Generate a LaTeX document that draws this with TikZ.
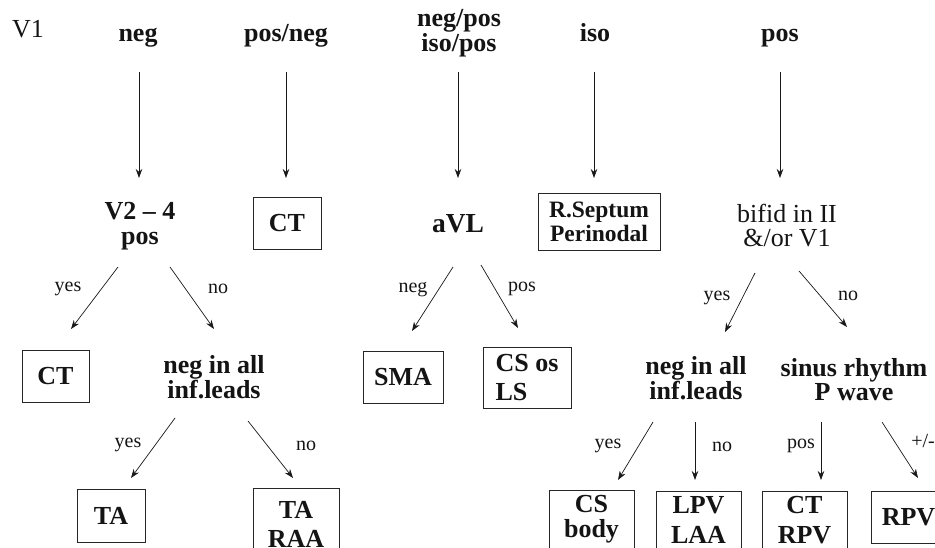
\documentclass[tikz,border=0pt]{standalone}
\usepackage{fontspec}
\setmainfont{Liberation Serif}
\usetikzlibrary{arrows.meta,calc}
\tikzset{
  bt/.style={font=\bfseries\fontsize{26}{23}\selectfont, inner sep=0pt, align=center, text=black!92},
  rt/.style={font=\fontsize{26}{23}\selectfont, inner sep=0pt, align=center, text=black!92},
  el/.style={font=\fontsize{20}{22}\selectfont, inner sep=0pt, text=black!92},
  boxed/.style={bt, draw=black!85, line width=0.8pt},
  frame/.style={draw=black!85, line width=0.8pt},
  arr/.style={-{Stealth[length=9pt,width=6.5pt]}, line width=0.7pt, draw=black!90},
}
\begin{document}
\begin{tikzpicture}[x=1pt,y=-1pt]
\path[use as bounding box, fill=white] (0,0) rectangle (935,548);
\clip (0,0) rectangle (935,548);

% top row
\node[rt, anchor=base] (v1) at (28,38) {V1};
\node[bt, anchor=base] (topneg) at (138,42) {neg};
\node[bt, anchor=base] (toppn) at (286,42) {pos/neg};
\node[bt] (topnp) at (459,33) {neg/pos\\iso/pos};
\node[bt, anchor=base] (topiso) at (595,42) {iso};
\node[bt, anchor=base] (toppos) at (780,42) {pos};

% second row
\node[bt] (v24) at (140,226) {V2 – 4\\[2pt]pos};
\node[boxed, minimum width=68pt, minimum height=52pt] (ct1) at (287,223) {CT};
\node[bt, font=\bfseries\fontsize{27.5}{23}\selectfont, anchor=base] (avl) at (458,233) {aVL};
\node[boxed, font=\bfseries\fontsize{23.5}{23}\selectfont, minimum width=122pt, minimum height=57pt] (rsep) at (599,221.5) {R.Septum\\[1pt]Perinodal};
\node[rt] (bifid) at (787,226) {bifid in II\\[1pt]\&/or V1};

% third row
\node[boxed, minimum width=67pt, minimum height=52pt] (ct2) at (55.5,376) {CT};
\node[bt] (ninf1) at (214,377) {neg in all\\inf.leads};
\node[boxed, minimum width=80pt, minimum height=52pt] (sma) at (403,377) {SMA};
\node[boxed, align=left, minimum width=88pt, minimum height=61pt] (csos) at (527,377.5) {CS os\\[6pt]LS};
\node[bt] (ninf2) at (696,378) {neg in all\\inf.leads};
\node[bt] (sinus) at (854,380) {sinus rhythm\\[1pt]P wave};

% bottom row
\node[boxed, minimum width=68pt, minimum height=53pt] (ta) at (111,515.5) {TA};
\node[bt] (taraa) at (296,524) {TA\\[6pt]RAA};
\draw[frame] ($(taraa)+(-43,40)$) -- ($(taraa)+(-43,-36)$) -- ($(taraa)+(43,-36)$) -- ($(taraa)+(43,40)$);
\node[bt] (csbody) at (591.5,519.5) {CS\\[2pt]body};
\draw[frame] ($(csbody)+(-42.5,40)$) -- ($(csbody)+(-42.5,-29.5)$) -- ($(csbody)+(42.5,-29.5)$) -- ($(csbody)+(42.5,40)$);
\node[bt] (lpvlaa) at (698.5,520) {LPV\\[7pt]LAA};
\draw[frame] ($(lpvlaa)+(-42.5,40)$) -- ($(lpvlaa)+(-42.5,-29)$) -- ($(lpvlaa)+(42.5,-29)$) -- ($(lpvlaa)+(42.5,40)$);
\node[bt] (ctrpv) at (804.5,520) {CT\\[7pt]RPV};
\draw[frame] ($(ctrpv)+(-42.5,40)$) -- ($(ctrpv)+(-42.5,-29)$) -- ($(ctrpv)+(42.5,-29)$) -- ($(ctrpv)+(42.5,40)$);
\node[boxed, minimum width=75pt, minimum height=52pt] (rpv) at (908.5,517) {RPV};

% top arrows
\draw[arr] ($(topneg.base)+(1,30)$) -- ($(v24)+(-1,-48)$);
\draw[arr] ($(toppn.base)+(0,30)$) -- ($(ct1)+(-1,-45)$);
\draw[arr] ($(topnp)+(-1,39)$) -- ($(avl.base)+(0,-55)$);
\draw[arr] ($(topiso.base)+(-1,30)$) -- ($(rsep)+(-5,-43.5)$);
\draw[arr] ($(toppos.base)+(0,30)$) -- ($(bifid)+(-7,-48)$);

% second-level arrows
\draw[arr] ($(v24)+(-22,41)$) -- ($(ct2)+(15.5,-47)$);
\draw[arr] ($(v24)+(30,41)$) -- ($(ninf1)+(0,-48)$);
\draw[arr] ($(avl.base)+(-5,34)$) -- ($(sma)+(9,-46)$);
\draw[arr] ($(avl.base)+(23,32)$) -- ($(csos)+(-9,-49.5)$);
\draw[arr] ($(bifid)+(-32,47)$) -- ($(ninf2)+(29,-46)$);
\draw[arr] ($(bifid)+(12,45)$) -- ($(sinus)+(-7,-53)$);

% third-level arrows
\draw[arr] ($(ninf1)+(-39,41)$) -- ($(ta)+(20,-37.5)$);
\draw[arr] ($(ninf1)+(34,44)$) -- ($(taraa)+(-3,-46)$);
\draw[arr] ($(ninf2)+(-43,44)$) -- ($(csbody)+(26.5,-39.5)$);
\draw[arr] ($(ninf2)+(-1,44)$) -- ($(lpvlaa)+(-3.5,-40)$);
\draw[arr] ($(sinus)+(-33,42)$) -- ($(ctrpv)+(16.5,-40)$);
\draw[arr] ($(sinus)+(28,42)$) -- ($(rpv)+(9.5,-39)$);

% edge labels
\node[el] (lyes1) at (68,289) {yes};
\node[el] (lno1) at (218,289) {no};
\node[el] (lneg) at (413,290) {neg};
\node[el] (lpos) at (522,289) {pos};
\node[el] (lyes2) at (717,298) {yes};
\node[el] (lno2) at (848,296) {no};
\node[el] (lyes3) at (128,445) {yes};
\node[el] (lno3) at (306,446) {no};
\node[el] (lyes4) at (608,446) {yes};
\node[el] (lno4) at (722,447) {no};
\node[el] (lpos2) at (801,446) {pos};
\node[el] (lpm) at (923,441) {+/-};
\end{tikzpicture}
\end{document}
